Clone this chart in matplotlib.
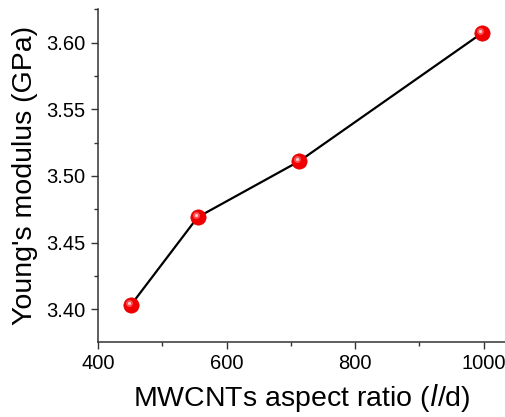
import numpy as np
import matplotlib.pyplot as plt
import matplotlib.transforms as mtransforms
from matplotlib.ticker import MultipleLocator

plt.rcParams['font.family'] = ['Liberation Sans', 'DejaVu Sans']

# data
aspect_ratio = [451, 555, 713, 997]
modulus = [3.403, 3.469, 3.511, 3.607]

fig = plt.figure(figsize=(5.05, 4.17), dpi=100)
ax = fig.add_axes([0.194, 0.180, 0.806, 0.798])

ax.plot(aspect_ratio, modulus, color='black', lw=1.6, zorder=2)
# red balls with a small highlight
ax.plot(aspect_ratio, modulus, 'o', ms=11, mfc='#f00000', mec='#e00000', mew=0.5, zorder=3)
shift = mtransforms.offset_copy(ax.transData, fig=fig, x=-1.5, y=1.5, units='points')
ax.plot(aspect_ratio, modulus, 'o', ms=5, mfc='#ff5050', mec='none', transform=shift, zorder=4)
ax.plot(aspect_ratio, modulus, 'o', ms=2.2, mfc='#ffd0d0', mec='none', transform=shift, zorder=5)

ax.set_xlim(400, 1033)
ax.set_ylim(3.3755, 3.625)
ax.xaxis.set_major_locator(MultipleLocator(200))
ax.xaxis.set_minor_locator(MultipleLocator(100))
ax.yaxis.set_major_locator(MultipleLocator(0.05))
ax.yaxis.set_minor_locator(MultipleLocator(0.025))
ax.yaxis.set_major_formatter(plt.FormatStrFormatter('%.2f'))

for s in ['top', 'right']:
    ax.spines[s].set_visible(False)
for s in ['left', 'bottom']:
    ax.spines[s].set_color('#333333')
    ax.spines[s].set_linewidth(1.1)

ax.tick_params(which='major', direction='out', length=5, width=1.0, color='#333333',
               labelsize=14.5, pad=4)
ax.tick_params(which='minor', direction='out', length=3, width=1.0, color='#333333')

ax.set_xlabel('MWCNTs aspect ratio ($\\mathit{l}$/d)', fontsize=20.5, labelpad=6)
ax.set_ylabel("Young's modulus (GPa)", fontsize=20.5, labelpad=6)

fig.savefig('out.png', dpi=100)
